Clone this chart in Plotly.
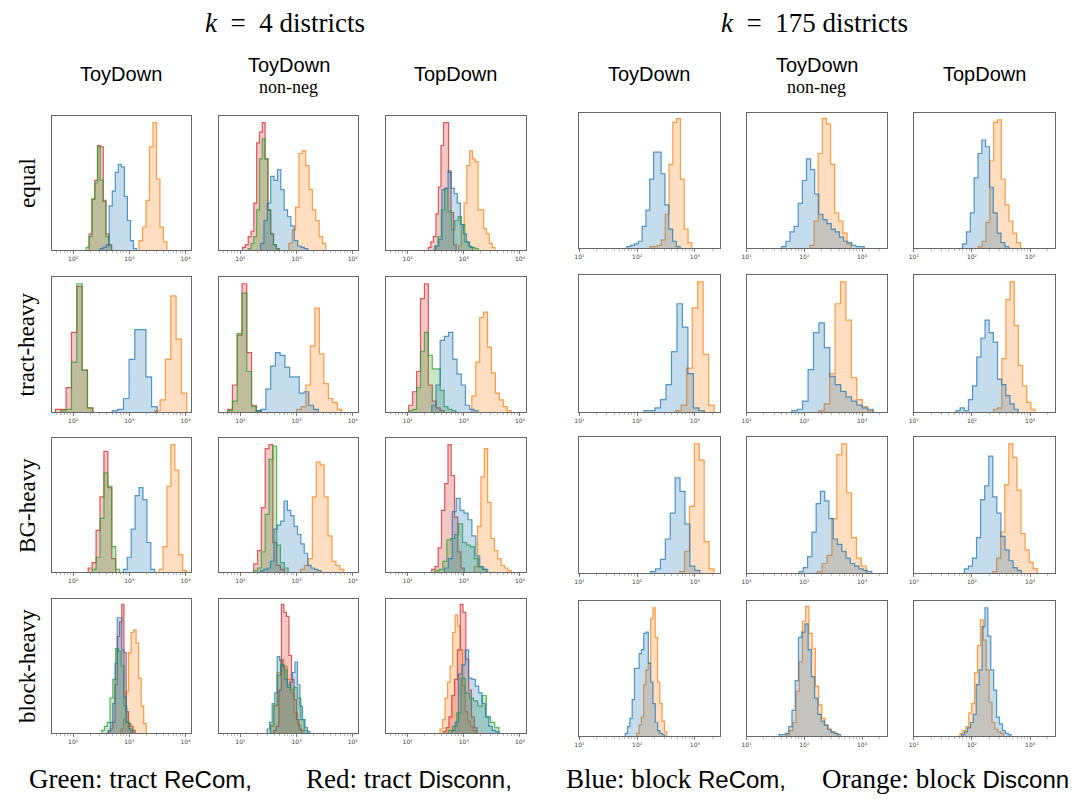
import plotly.graph_objects as go

# ---------------- data ----------------
GROUP_TITLES = ["<i>k</i>&nbsp;&nbsp;=&nbsp;&nbsp;4 districts", "<i>k</i>&nbsp;&nbsp;=&nbsp;&nbsp;175 districts"]
METHODS = ["ToyDown", "ToyDown", "TopDown"]
METHOD_SUB = ["", "non-neg", ""]
ROW_LABELS = ["equal", "tract-heavy", "BG-heavy", "block-heavy"]
K4_TICKS = [100, 1000, 10000]
K4_TICK_TEXT = ["10²", "10³", "10⁴"]
K175_TICKS = [10, 100, 1000]
K175_TICK_TEXT = ["10¹", "10²", "10³"]
LEGEND_PARTS = [("Green: tract ", "ReCom,"), ("Red: tract ", "Disconn,"),
                ("Blue: block ", "ReCom,"), ("Orange: block ", "Disconn")]

# each histogram: (log10 of first bin edge, log10 bin width, bar heights in % of panel height)
# ---- k = 4 ----
k4_equal_toy = {
    "green": (2.232, 0.05, [2, 10, 38, 50, 77, 52, 36, 10, 3]),
    "red": (2.286, 0.05, [12, 38, 52, 78, 77, 37, 12, 4]),
    "blue": (2.48, 0.054, [1, 2, 4, 33, 44, 58, 64, 62, 40, 22, 7, 1]),
    "orange": (3.173, 0.062, [7, 17, 37, 77, 95, 53, 17, 6]),
}
k4_equal_toynn = {
    "green": (2.14, 0.05, [1, 5, 10, 30, 68, 83, 68, 30, 12, 4, 1]),
    "red": (2.04, 0.05, [2, 4, 10, 14, 35, 80, 88, 95, 68, 30, 12, 4, 1]),
    "blue": (2.36, 0.06, [5, 22, 35, 55, 52, 60, 45, 30, 25, 18, 7, 3, 2, 1]),
    "orange": (2.863, 0.06, [5, 15, 32, 72, 74, 63, 45, 30, 22, 10, 5]),
}
k4_equal_top = {
    "green": (2.48, 0.06, [3, 10, 30, 46, 29, 15, 22, 25, 19, 6, 3, 2, 1]),
    "red": (2.369, 0.045, [2, 6, 10, 27, 47, 78, 95, 95, 58, 28, 4]),
    "blue": (2.5, 0.055, [3, 8, 45, 46, 59, 46, 42, 35, 19, 12, 6, 2]),
    "orange": (2.905, 0.05, [3, 17, 35, 63, 74, 68, 66, 30, 30, 16, 12, 5, 2]),
}
k4_tract_toy = {
    "green": (1.78, 0.095, [1, 2, 37, 95, 31, 3]),
    "red": (1.685, 0.095, [2, 2, 18, 59, 93, 31, 3]),
    "blue": (2.696, 0.1, [1, 2, 10, 39, 61, 61, 26, 4]),
    "orange": (3.452, 0.095, [1, 9, 39, 86, 54, 14]),
}
k4_tract_toynn = {
    "green": (1.774, 0.085, [1, 8, 58, 88, 30, 4, 1]),
    "red": (1.774, 0.085, [2, 20, 57, 95, 44, 5, 1]),
    "blue": (2.283, 0.085, [1, 2, 17, 34, 44, 42, 33, 26, 26, 14, 15, 5, 2]),
    "orange": (3.006, 0.08, [2, 4, 20, 49, 77, 43, 21, 10, 7, 2]),
}
k4_tract_top = {
    "green": (2.02, 0.07, [1, 2, 18, 45, 59, 42, 32, 32, 16, 4, 2, 1]),
    "red": (2.02, 0.07, [5, 15, 30, 84, 95, 20, 8, 3, 1]),
    "blue": (2.43, 0.075, [5, 20, 53, 56, 59, 39, 28, 20, 5, 2, 1]),
    "orange": (3.143, 0.07, [12, 37, 70, 74, 48, 29, 14, 9, 4, 1]),
}
k4_bg_toy = {
    "green": (2.338, 0.07, [2, 11, 40, 74, 64, 19, 2]),
    "red": (2.268, 0.07, [3, 7, 31, 56, 90, 63, 10]),
    "blue": (2.893, 0.07, [2, 11, 32, 57, 63, 54, 22, 2]),
    "orange": (3.53, 0.07, [2, 19, 64, 95, 76, 13, 1]),
}
k4_bg_toynn = {
    "green": (2.238, 0.068, [1, 3, 15, 43, 84, 94, 20, 7, 3]),
    "red": (2.238, 0.068, [6, 16, 48, 92, 95, 22, 5, 2]),
    "blue": (2.357, 0.06, [1, 2, 3, 8, 32, 35, 38, 53, 46, 42, 34, 28, 21, 14, 5, 3, 2, 1]),
    "orange": (3.071, 0.07, [2, 5, 10, 56, 82, 80, 56, 27, 8, 5, 2]),
}
k4_bg_top = {
    "green": (2.488, 0.07, [1, 2, 8, 24, 25, 28, 36, 22, 20, 19, 10, 4, 2]),
    "red": (2.429, 0.058, [2, 4, 18, 46, 66, 95, 72, 41, 15, 3]),
    "blue": (2.655, 0.07, [3, 10, 45, 55, 46, 44, 39, 27, 12, 4, 2]),
    "orange": (3.185, 0.06, [4, 34, 71, 92, 52, 25, 16, 10, 5, 3, 1]),
}
k4_block_toy = {
    "green": (2.506, 0.05, [2, 5, 8, 26, 40, 63, 61, 50, 20, 8, 3]),
    "red": (2.625, 0.04, [1, 3, 8, 36, 72, 83, 96, 60, 16, 7, 5, 2]),
    "blue": (2.625, 0.04, [2, 8, 22, 52, 86, 86, 62, 27, 8, 3, 1]),
    "orange": (2.851, 0.045, [3, 10, 31, 60, 75, 77, 67, 41, 20, 7]),
}
k4_block_toynn = {
    "green": (2.536, 0.06, [6, 21, 43, 51, 47, 36, 32, 34, 26, 10, 2]),
    "red": (2.595, 0.045, [2, 5, 32, 96, 90, 87, 58, 40, 25, 10, 3]),
    "blue": (2.476, 0.045, [3, 8, 22, 30, 57, 54, 50, 40, 34, 38, 45, 53, 36, 20, 10, 4, 1]),
    "orange": (2.536, 0.06, [5, 20, 45, 55, 50, 40, 30, 15, 6, 2]),
}
k4_block_top = {
    "green": (2.726, 0.075, [2, 5, 15, 41, 30, 26, 24, 20, 28, 12, 8, 4]),
    "red": (2.637, 0.05, [1, 4, 12, 28, 40, 62, 96, 90, 55, 32, 12, 4]),
    "blue": (2.786, 0.06, [2, 8, 44, 51, 62, 41, 40, 35, 30, 22, 12, 5, 2, 1]),
    "orange": (2.577, 0.045, [3, 10, 26, 38, 50, 75, 88, 80, 62, 35, 16, 9, 5, 2]),
}
# ---- k = 175 ----
k175_equal_toy = {
    "blue": (1.823, 0.066, [1, 2, 3, 5, 16, 28, 51, 71, 71, 55, 32, 14, 5, 1]),
    "orange": (2.223, 0.066, [1, 1, 2, 6, 25, 62, 93, 96, 51, 14, 4]),
}
k175_equal_toynn = {
    "blue": (1.609, 0.0714, [1, 5, 12, 16, 33, 50, 66, 58, 40, 25, 21, 18, 14, 12, 8, 5, 4, 2, 1, 1]),
    "orange": (2.097, 0.0714, [2, 20, 70, 96, 92, 62, 26, 20, 11, 3]),
}
k175_equal_top = {
    "blue": (1.84, 0.066, [3, 12, 26, 52, 70, 80, 75, 45, 26, 11, 4, 1]),
    "orange": (2.109, 0.066, [1, 5, 19, 65, 93, 95, 51, 32, 20, 11, 4]),
}
k175_tract_toy = {
    "blue": (2.12, 0.095, [1, 1, 3, 9, 20, 44, 79, 62, 28, 3, 1]),
    "orange": (2.669, 0.095, [1, 5, 32, 76, 95, 42, 5]),
}
k175_tract_toynn = {
    "blue": (1.783, 0.094, [1, 2, 8, 31, 58, 65, 47, 26, 20, 15, 11, 8, 5, 3, 2]),
    "orange": (2.251, 0.094, [1, 6, 28, 79, 95, 67, 25, 9, 4, 1]),
}
k175_tract_top = {
    "blue": (1.726, 0.0714, [1, 3, 1, 9, 19, 40, 54, 67, 58, 51, 24, 20, 12, 6, 2]),
    "orange": (2.371, 0.0714, [2, 3, 39, 82, 95, 63, 34, 19, 7, 2]),
}
k175_bg_toy = {
    "blue": (2.234, 0.085, [1, 3, 10, 25, 44, 70, 60, 36, 5, 2]),
    "orange": (2.737, 0.085, [1, 16, 49, 95, 83, 23, 3]),
}
k175_bg_toynn = {
    "blue": (1.909, 0.074, [1, 4, 12, 30, 51, 60, 53, 40, 25, 21, 16, 11, 7, 5, 3, 2, 1]),
    "orange": (2.223, 0.085, [1, 7, 13, 40, 87, 95, 59, 26, 11, 5]),
}
k175_bg_top = {
    "blue": (1.869, 0.07, [3, 5, 11, 26, 54, 64, 86, 56, 44, 27, 17, 9, 4, 2]),
    "orange": (2.354, 0.07, [1, 11, 30, 65, 95, 85, 61, 29, 17, 8, 3]),
}
k175_block_toy = {
    "blue": (1.795, 0.04, [2, 7, 13, 27, 50, 50, 61, 64, 76, 77, 54, 40, 24, 10, 4, 2, 1]),
    "orange": (1.994, 0.04, [2, 8, 14, 38, 49, 54, 87, 95, 73, 40, 24, 11, 3]),
}
k175_block_toynn = {
    "blue": (1.5625, 0.056, [1, 1, 2, 7, 19, 41, 73, 77, 83, 64, 44, 28, 16, 11, 8, 5, 3, 2, 1]),
    "orange": (1.6875, 0.056, [1, 4, 10, 33, 55, 85, 96, 76, 65, 37, 23, 13, 8, 5, 3, 2]),
}
k175_block_top = {
    "blue": (1.824, 0.05, [1, 3, 6, 10, 16, 38, 49, 81, 95, 74, 49, 34, 14, 9, 4, 2, 1]),
    "orange": (1.795, 0.05, [2, 4, 7, 17, 24, 47, 67, 86, 71, 49, 25, 10, 5, 3, 2]),
}

PANELS = [
    [k4_equal_toy, k4_equal_toynn, k4_equal_top, k175_equal_toy, k175_equal_toynn, k175_equal_top],
    [k4_tract_toy, k4_tract_toynn, k4_tract_top, k175_tract_toy, k175_tract_toynn, k175_tract_top],
    [k4_bg_toy, k4_bg_toynn, k4_bg_top, k175_bg_toy, k175_bg_toynn, k175_bg_top],
    [k4_block_toy, k4_block_toynn, k4_block_top, k175_block_toy, k175_block_toynn, k175_block_top],
]

# ---------------- styles / layout ----------------
W, H = 1079, 799
COLORS = {"green": (44, 160, 44), "red": (214, 39, 40), "blue": (31, 119, 180), "orange": (255, 127, 14)}
DRAW_ORDER = ["orange", "red", "green", "blue"]
COL_X = [(47, 187), (215, 355), (383, 523), (577, 718), (745, 886), (913, 1055)]
ROW_Y_K4 = [(116, 250), (277, 412), (438, 572), (599, 733)]
ROW_Y_K175 = [(113, 248), (275, 412), (437, 573), (601, 736)]
X_RANGE_K4 = [1.62, 4.1]
X_RANGE_K175 = [1.0, 3.43]

SERIF = "Liberation Serif"
SANS = "Liberation Sans"


def px_x(x):
    return x / W


def px_y(y):
    return 1 - y / H


fig = go.Figure()
layout = {}
idx = 0
for r in range(4):
    for c in range(6):
        idx += 1
        sfx = "" if idx == 1 else str(idx)
        k4 = c < 3
        x0, x1 = COL_X[c]
        y0, y1 = (ROW_Y_K4 if k4 else ROW_Y_K175)[r]
        panel = PANELS[r][c]
        for name in DRAW_ORDER:
            if name not in panel:
                continue
            start, width, heights = panel[name]
            n = len(heights)
            edges = [10 ** (start + width * i) for i in range(n + 1)]
            xs = [edges[0]] + edges[:n] + [edges[n]]
            ys = [0] + list(heights) + [0]
            rr, gg, bb = COLORS[name]
            fig.add_trace(go.Scatter(
                x=xs, y=ys, xaxis="x" + sfx, yaxis="y" + sfx, mode="lines",
                line=dict(shape="hv", color=f"rgba({rr},{gg},{bb},0.75)", width=1.2),
                fill="tozeroy", fillcolor=f"rgba({rr},{gg},{bb},0.26)",
                hoverinfo="skip", showlegend=False))
        layout["xaxis" + sfx] = dict(
            domain=[px_x(x0), px_x(x1)], anchor="y" + sfx, type="log",
            range=X_RANGE_K4 if k4 else X_RANGE_K175,
            tickvals=K4_TICKS if k4 else K175_TICKS,
            ticktext=K4_TICK_TEXT if k4 else K175_TICK_TEXT,
            ticks="outside", ticklen=3, tickwidth=0.7, tickcolor="#555",
            minor=dict(ticks="outside", ticklen=1.5, tickwidth=0.5, tickcolor="#777", dtick="D1"),
            tickfont=dict(size=6, color="#444", family="DejaVu Sans"),
            showgrid=False, zeroline=False, showline=True, mirror=True,
            linecolor="#666", linewidth=1, fixedrange=True)
        layout["yaxis" + sfx] = dict(
            domain=[px_y(y1), px_y(y0)], anchor="x" + sfx, range=[0, 100],
            showticklabels=False, ticks="", showgrid=False, zeroline=False,
            showline=True, mirror=True, linecolor="#666", linewidth=1, fixedrange=True)

ann = []
# group titles
for gx, title in zip([281, 813], GROUP_TITLES):
    ann.append(dict(x=px_x(gx), y=px_y(23), text=title, showarrow=False,
                    xref="paper", yref="paper", xanchor="center", yanchor="middle",
                    font=dict(family=SERIF, size=27, color="black")))
# column headers
for c in range(6):
    cx = (COL_X[c][0] + COL_X[c][1]) / 2
    m = METHODS[c % 3]
    sub = METHOD_SUB[c % 3]
    if sub:
        ann.append(dict(x=px_x(cx), y=px_y(65), text=m, showarrow=False, xref="paper", yref="paper",
                        xanchor="center", yanchor="middle", font=dict(family=SANS, size=20, color="black")))
        ann.append(dict(x=px_x(cx), y=px_y(87), text=sub, showarrow=False, xref="paper", yref="paper",
                        xanchor="center", yanchor="middle", font=dict(family=SERIF, size=18, color="black")))
    else:
        ann.append(dict(x=px_x(cx), y=px_y(74), text=m, showarrow=False, xref="paper", yref="paper",
                        xanchor="center", yanchor="middle", font=dict(family=SANS, size=20, color="black")))
# row labels
for r, lab in enumerate(ROW_LABELS):
    cy = (ROW_Y_K4[r][0] + ROW_Y_K4[r][1]) / 2
    ann.append(dict(x=px_x(22), y=px_y(cy), text=lab, showarrow=False, textangle=-90,
                    xref="paper", yref="paper", xanchor="center", yanchor="middle",
                    font=dict(family=SERIF, size=23, color="black")))
# bottom legend text
for cx, (serif_part, sans_part) in zip([136, 406, 674, 945], LEGEND_PARTS):
    txt = serif_part + '<span style="font-family:Liberation Sans;font-size:24px">' + sans_part + "</span>"
    ann.append(dict(x=px_x(cx), y=px_y(779), text=txt, showarrow=False, xref="paper", yref="paper",
                    xanchor="center", yanchor="middle", font=dict(family=SERIF, size=27, color="black")))

fig.update_layout(
    width=W, height=H, margin=dict(l=0, r=0, t=0, b=0),
    paper_bgcolor="white", plot_bgcolor="white", showlegend=False,
    annotations=ann, **layout)

fig.write_html("out.html",
               config={"displayModeBar": False, "staticPlot": True},
               post_script="document.body.style.margin='0';document.body.style.padding='0';"
                           "document.body.style.overflow='hidden';")
